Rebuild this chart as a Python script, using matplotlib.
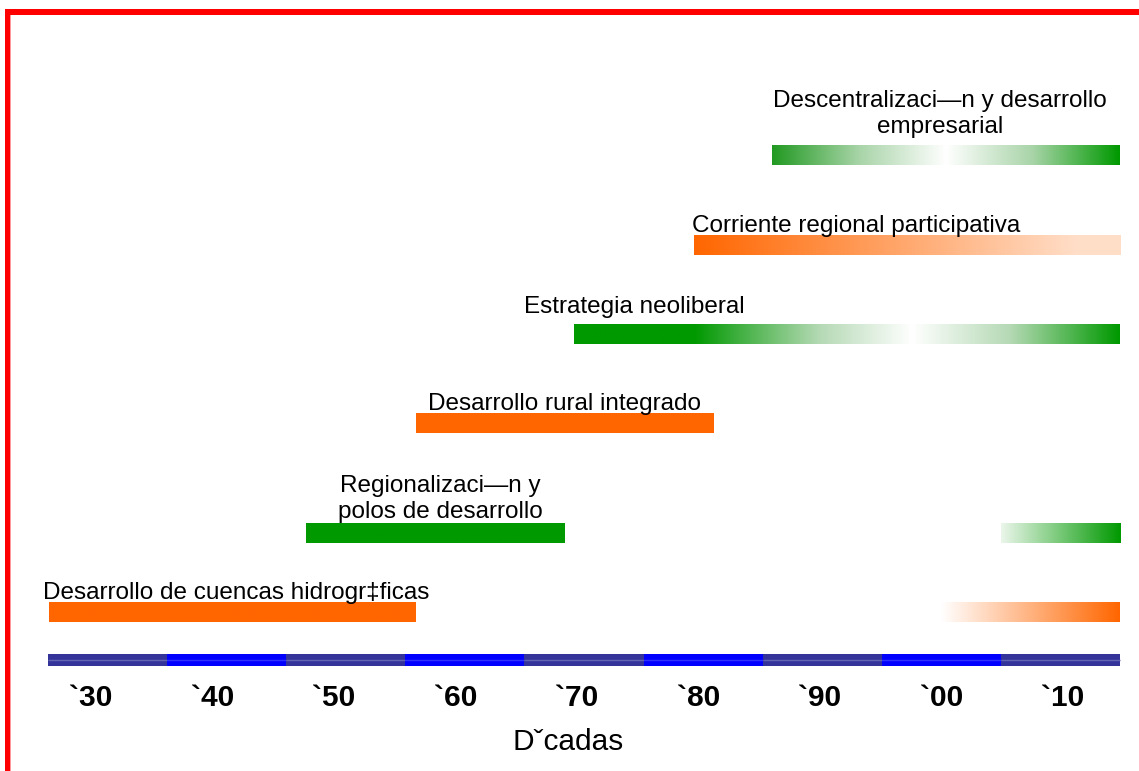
import numpy as np
import matplotlib
matplotlib.use("Agg")
import matplotlib.pyplot as plt
from matplotlib.colors import LinearSegmentedColormap, to_rgb
from matplotlib.patches import Rectangle

plt.rcParams['font.family'] = ['Liberation Sans', 'DejaVu Sans']

# ---- data ----
decade_labels = ["`30", "`40", "`50", "`60", "`70", "`80", "`90", "`00", "`10"]
decade_starts = [1930, 1940, 1950, 1960, 1970, 1980, 1990, 2000, 2010]
axis_title = "Dˇcadas"

phase_names = [
    "Desarrollo de cuencas hidrogr‡ficas",
    "Regionalizaci—n y\npolos de desarrollo",
    "Desarrollo rural integrado",
    "Estrategia neoliberal",
    "Corriente regional participativa",
    "Descentralizaci—n y desarrollo\nempresarial",
]
phase_start = [1930.1, 1951.7, 1960.9, 1974.2, 1984.2, 1990.8]
phase_end = [1960.9, 1973.4, 1985.9, 2020.0, 2020.0, 2020.0]

# extra unlabeled fade bars (row index, start, end)
fade_rows = [1, 0]
fade_start = [2010.0, 2005.0]
fade_end = [2020.0, 2020.0]

# ---- styles / layout ----
GREEN = "#009900"
ORANGE = "#FF6600"
row_top = [602, 523, 413, 324, 235, 145]   # pixel rows (layout)
bar_h = 20
phase_grad = [
    [(0, ORANGE), (1, ORANGE)],
    [(0, GREEN), (1, GREEN)],
    [(0, ORANGE), (1, ORANGE)],
    [(0, GREEN), (0.22, GREEN), (0.45, "#B5D9B5"), (0.62, "#FFFFFF"), (0.8, "#B5D9B5"), (1, GREEN)],
    [(0, ORANGE), (0.9, "#FFDEC8"), (1, "#FFDEC8")],
    [(0, "#229A22"), (0.25, "#A8D4A8"), (0.5, "#FFFFFF"), (0.75, "#A8D4A8"), (1, GREEN)],
]
fade_grad = [
    [(0, "#EBF6EB"), (1, GREEN)],
    [(0, "#FFFFFF"), (1, ORANGE)],
]
# label: (x, baseline y of last line, ha)
label_pos = [
    (1929.6, 599, 'left'),
    (1962.9, 518, 'center'),
    (1973.4, 410, 'center'),
    (1979.2, 313, 'center'),
    (1984.1, 232, 'left'),
    (2004.9, 133, 'center'),
]

W, H = 1139, 771
px_per_year = (1120 - 48) / 90.0
x0 = 1930 - 48 / px_per_year
x1 = 1930 + (W - 48) / px_per_year

fig = plt.figure(figsize=(W / 100, H / 100), dpi=100)
ax = fig.add_axes([0, 0, 1, 1])
ax.set_xlim(x0, x1)
ax.set_ylim(H, 0)
ax.axis('off')


def grad_bar(start, end, top, stops):
    cmap = LinearSegmentedColormap.from_list("g", [(p, to_rgb(c)) for p, c in stops])
    grad = np.linspace(0, 1, 512).reshape(1, -1)
    ax.imshow(grad, cmap=cmap, aspect='auto', interpolation='bilinear',
              extent=(start, end, top + bar_h, top), zorder=2)


for i, name in enumerate(phase_names):
    grad_bar(phase_start[i], phase_end[i], row_top[i], phase_grad[i])
    lx, ly, ha = label_pos[i]
    ax.text(lx, ly, name, ha=ha, va='baseline', ma='center', fontsize=17.5,
            linespacing=1.22, color='black', zorder=3)

for r, s, e, g in zip(fade_rows, fade_start, fade_end, fade_grad):
    grad_bar(s, e, row_top[r], g)

# timeline
for i, d in enumerate(decade_starts):
    c = "#333399" if i % 2 == 0 else "#0000FF"
    cl = "#6464B4" if i % 2 == 0 else "#3030FF"
    ax.add_patch(Rectangle((d, 654), 10, 12, facecolor=c, edgecolor='none', zorder=2))
    ax.plot([d, d + 10], [660, 660], color=cl, lw=1.0, zorder=3, solid_capstyle='butt')
    ax.text(d + 3.6 + 0.2 * i, 706, decade_labels[i], ha='center', va='baseline',
            fontsize=21.5, fontweight='bold', zorder=3)

ax.text(1973.7, 750, axis_title, ha='center', va='baseline', fontsize=21.5, zorder=3)

# red frame
fig.patches.append(Rectangle((5 / W, 1 - 15 / H), 1 - 5 / W, 6 / H, transform=fig.transFigure,
                             facecolor='#FF0000', edgecolor='none', zorder=5))
fig.patches.append(Rectangle((5 / W, 0), 5 / W, 1 - 9 / H, transform=fig.transFigure,
                             facecolor='#FF0000', edgecolor='none', zorder=5))
fig.patches.append(Rectangle((10 / W, 0), 1 / W, 1 - 15 / H, transform=fig.transFigure,
                             facecolor='#FF9999', edgecolor='none', zorder=5))

fig.savefig("out.png", dpi=100)
